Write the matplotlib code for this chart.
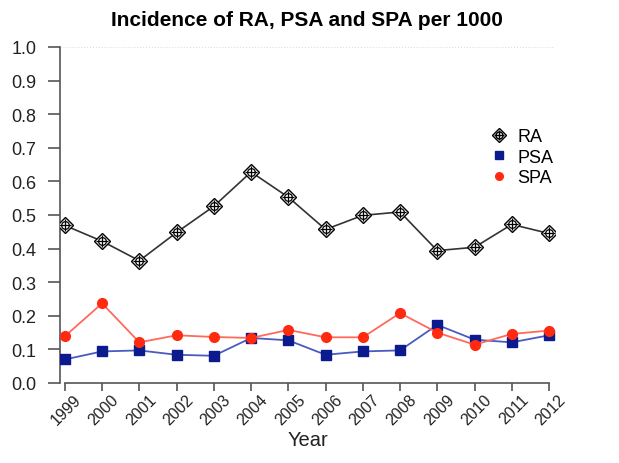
import numpy as np
import matplotlib
matplotlib.use("Agg")
import matplotlib.pyplot as plt
import matplotlib.transforms as mtransforms
from matplotlib.lines import Line2D

plt.rcParams['font.family'] = ['Liberation Sans', 'DejaVu Sans']

years = [1999, 2000, 2001, 2002, 2003, 2004, 2005, 2006, 2007, 2008, 2009, 2010, 2011, 2012]
ra = [0.469, 0.422, 0.364, 0.448, 0.526, 0.628, 0.553, 0.457, 0.499, 0.509, 0.394, 0.404, 0.472, 0.445]
psa = [0.070, 0.094, 0.097, 0.084, 0.081, 0.134, 0.127, 0.084, 0.094, 0.097, 0.173, 0.129, 0.121, 0.142]
spa = [0.139, 0.237, 0.121, 0.142, 0.137, 0.134, 0.158, 0.136, 0.136, 0.208, 0.150, 0.114, 0.146, 0.156]
yticks = [0.0, 0.1, 0.2, 0.3, 0.4, 0.5, 0.6, 0.7, 0.8, 0.9, 1.0]

fig = plt.figure(figsize=(6.19, 4.64), dpi=100)
ax = fig.add_axes([60 / 619, 80 / 464, 495 / 619, 336 / 464])

# faint dotted line at top
ax.axhline(1.0, color="#dddddd", linestyle=":", linewidth=0.8, zorder=0)

# RA: diamond + circle-plus
ax.plot(years, ra, color="#333333", linewidth=1.2, zorder=2)
ax.plot(years, ra, linestyle="none", marker="D", markersize=8, markerfacecolor="white",
        markeredgecolor="black", markeredgewidth=1.0, zorder=3)
ax.plot(years, ra, linestyle="none", marker="o", markersize=5.5, markerfacecolor="none",
        markeredgecolor="black", markeredgewidth=0.9, zorder=4)
ax.plot(years, ra, linestyle="none", marker="+", markersize=8, markeredgecolor="black",
        markeredgewidth=0.9, zorder=4)

ax.plot(years, psa, color="#4a5bc0", linewidth=1.3, marker="s", markersize=6.5,
        markerfacecolor="#0b1a8c", markeredgecolor="#0b1a8c", zorder=3)
ax.plot(years, spa, color="#ff6a5c", linewidth=1.3, marker="o", markersize=7,
        markerfacecolor="#ff2a10", markeredgecolor="#ff2a10", zorder=3)

ax.set_xlim(1998.87, 2012.16)
ax.set_ylim(0, 1.0)
ax.spines["top"].set_visible(False)
ax.spines["right"].set_visible(False)
ax.spines["left"].set_bounds(0, 1.0)
ax.spines["bottom"].set_bounds(1999, 2012)
ax.spines["left"].set_color("#555555")
ax.spines["bottom"].set_color("#555555")
ax.spines["left"].set_linewidth(1.2)
ax.spines["bottom"].set_linewidth(1.2)

ax.set_yticks(yticks)
ax.set_yticklabels(["%.1f" % v for v in yticks], fontsize=13, color="#222222")
ax.set_xticks(years)
ax.set_xticklabels([str(y) for y in years], rotation=45, ha="right", rotation_mode="anchor",
                   fontsize=11.5, color="#222222")
ax.tick_params(axis="both", width=1.2, color="#555555")
ax.tick_params(axis="x", length=6, pad=0)
ax.tick_params(axis="y", length=9, pad=8)

# shift rotated year labels a bit to the right, like the original
offset = mtransforms.ScaledTranslation(0.09, 0, fig.dpi_scale_trans)
for lab in ax.get_xticklabels():
    lab.set_transform(lab.get_transform() + offset)

ax.set_xlabel("Year", fontsize=14.5, color="#222222")
ax.xaxis.set_label_coords(0.5, -0.14)

fig.text(307 / 619, 1 - 21 / 464, "Incidence of RA, PSA and SPA per 1000",
         ha="center", va="center", fontsize=15, fontweight="bold")

h_ra = (Line2D([], [], linestyle="none", marker="D", markersize=7.5, markerfacecolor="white",
               markeredgecolor="black"),
        Line2D([], [], linestyle="none", marker="o", markersize=5, markerfacecolor="none",
               markeredgecolor="black"),
        Line2D([], [], linestyle="none", marker="+", markersize=7.5, markeredgecolor="black"))
h_psa = Line2D([], [], linestyle="none", marker="s", markersize=5.5,
               markerfacecolor="#0b1a8c", markeredgecolor="#0b1a8c")
h_spa = Line2D([], [], linestyle="none", marker="o", markersize=5.5,
               markerfacecolor="#ff2a10", markeredgecolor="#ff2a10")
fig.legend([h_ra, h_psa, h_spa], ["RA", "PSA", "SPA"], loc="upper left",
           bbox_to_anchor=(481 / 619, 1 - 120 / 464), frameon=False, fontsize=13,
           handlelength=1.0, handletextpad=0.5, labelspacing=0.2, borderpad=0)

fig.savefig("out.png", dpi=100)
